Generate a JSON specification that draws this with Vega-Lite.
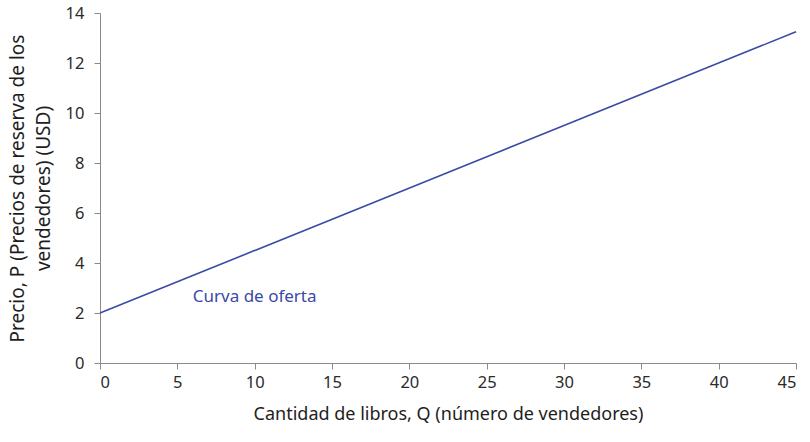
{
  "$schema": "https://vega.github.io/schema/vega-lite/v6.json",
  "autosize": {"type": "none"},
  "padding": {"left": 100, "top": 13, "right": 14, "bottom": 79},
  "width": 696,
  "height": 350,
  "background": "white",
  "config": {
    "font": "Noto Sans",
    "view": {"stroke": null},
    "axis": {
      "grid": false,
      "domainColor": "#8a8a8a",
      "tickColor": "#8a8a8a",
      "tickSize": 6,
      "labelFontSize": 16.5,
      "labelColor": "#2a2a2a",
      "titleFontSize": 19,
      "titleFontWeight": "normal",
      "titleColor": "#1e1e1e",
      "titleLineHeight": 26
    }
  },
  "datasets": {
    "supply": [
      {"Q": 0, "P": 2},
      {"Q": 45, "P": 13.25}
    ],
    "labels": [
      {"Q": 6, "P": 2.64, "label": "Curva de oferta"}
    ]
  },
  "layer": [
    {
      "data": {"name": "supply"},
      "mark": {"type": "line", "color": "#3a4aa6", "strokeWidth": 1.6},
      "encoding": {
        "x": {
          "field": "Q", "type": "quantitative",
          "scale": {"domain": [0, 45], "nice": false},
          "axis": {"values": [0, 5, 10, 15, 20, 25, 30, 35, 40, 45], "labelPadding": 5, "titleY": 42, "titleFontSize": 18,
                   "title": "Cantidad de libros, Q (número de vendedores)"}
        },
        "y": {
          "field": "P", "type": "quantitative",
          "scale": {"domain": [0, 14], "nice": false},
          "axis": {"values": [0, 2, 4, 6, 8, 10, 12, 14], "labelPadding": 10, "titleX": -73,
                   "title": ["Precio, P (Precios de reserva de los", "vendedores) (USD)"]}
        }
      }
    },
    {
      "data": {"name": "labels"},
      "mark": {"type": "text", "align": "left", "baseline": "middle", "color": "#3a4aa6", "fontSize": 17},
      "encoding": {
        "x": {"field": "Q", "type": "quantitative"},
        "y": {"field": "P", "type": "quantitative"},
        "text": {"field": "label"}
      }
    }
  ]
}
